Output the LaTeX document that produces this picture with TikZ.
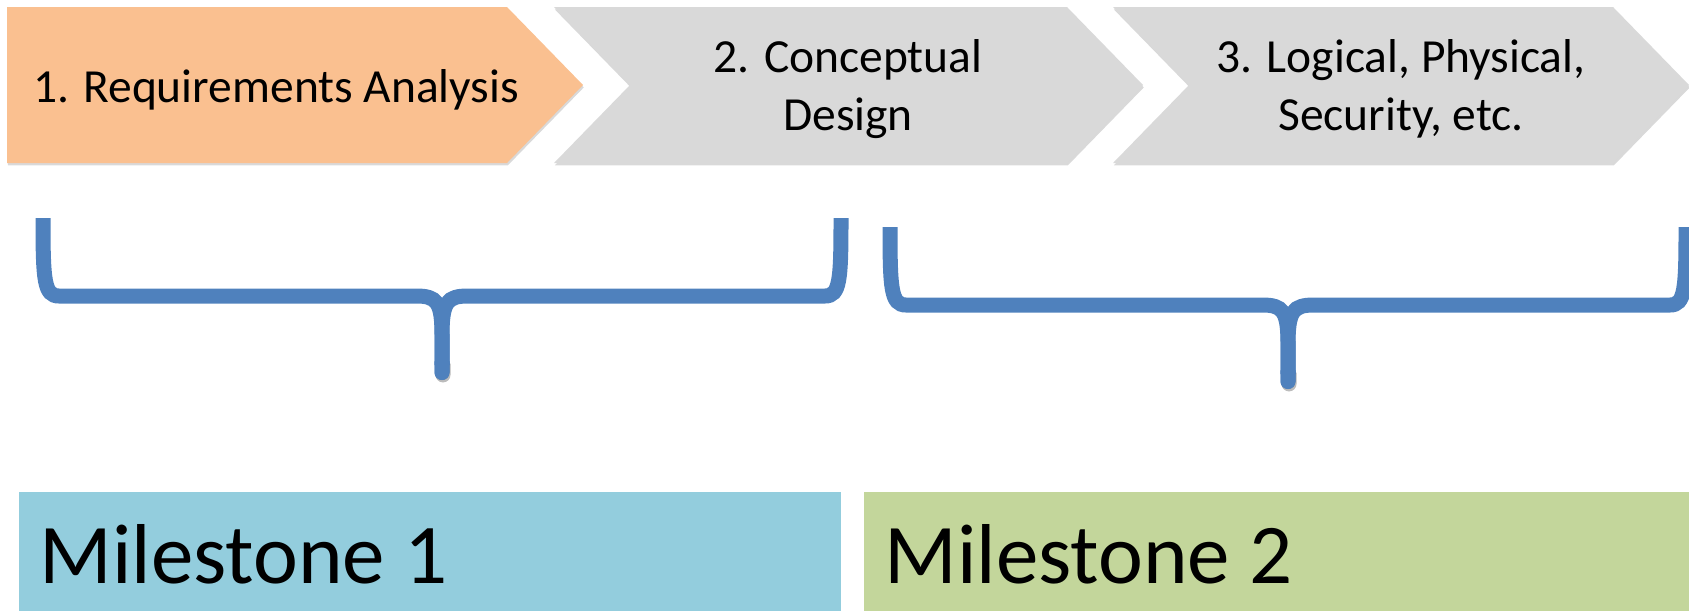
\documentclass[tikz,border=0pt]{standalone}
\usepackage{fontspec}
\setmainfont{Carlito}
\usetikzlibrary{shadows}
\usetikzlibrary{arrows.meta}
\definecolor{reqorange}{HTML}{FAC090}
\definecolor{phasegray}{HTML}{D9D9D9}
\definecolor{braceblue}{HTML}{4F81BD}
\definecolor{msblue}{HTML}{93CDDD}
\definecolor{msgreen}{HTML}{C3D69B}
\tikzset{phase/.style={fill=phasegray,
        drop shadow={shadow xshift=0.4pt,shadow yshift=-1.2pt,opacity=0.3}},
    phase text/.style={font=\fontsize{23.75}{29}\selectfont,align=center,inner sep=0pt},
    brace line/.style={braceblue,line width=7.5pt,-{Round Cap[]},
        preaction={draw=black!60,opacity=0.25,transform canvas={shift={(0.5pt,-1.2pt)}}}},
    milestone text/.style={font=\fontsize{42.5}{51}\selectfont,inner sep=0pt,anchor=base west}}

\begin{document}
\begin{tikzpicture}[x=0.5pt,y=-0.5pt,
pics/milebrace/.style={code={
    \draw[brace line] (-#1,0) .. controls (-#1,62) and (-#1+1,78) .. (-#1+16,78) -- (-26,78)
      .. controls (-5,78) and (0,84) .. (0,118) -- (0,162);
    \draw[brace line] (#1,0) .. controls (#1,62) and (#1-1,78) .. (#1-16,78) -- (26,78)
      .. controls (5,78) and (0,84) .. (0,118) -- (0,162);}}]
      \useasboundingbox (0,0) rectangle (1689,611);
      % process steps
      \fill[phase,fill=reqorange] (7,7) -- (507,7) -- (583,85) -- (507,163) -- (7,163) -- cycle;
      \fill[phase] (554,7) -- (1067,7) -- (1143,85) -- (1067,163) -- (554,163) -- (630,85) -- cycle;
      \fill[phase] (1113,7) -- (1613,7) -- (1689,85) -- (1613,163) -- (1113,163) -- (1189,85) -- cycle;
      \node[phase text] (req) at (276,90) {1. Requirements Analysis};
      \node[phase text] (concept) at (848,89) {2. Conceptual\\Design};
      \node[phase text] (logical) at (1401,89) {3. Logical, Physical,\\Security, etc.};
      % braces
      \pic (brace1) at (442,218) {milebrace=399};
      \pic (brace2) at (1288,227) {milebrace=398};
      % milestones
      \fill[msblue] (19,492) rectangle (841,611);
      \fill[msgreen] (864,492) rectangle (1689,611);
      \node[milestone text] (ms1) at (39,583) {Milestone 1};
      \node[milestone text] (ms2) at (884,583) {Milestone 2};
\end{tikzpicture}
\end{document}
